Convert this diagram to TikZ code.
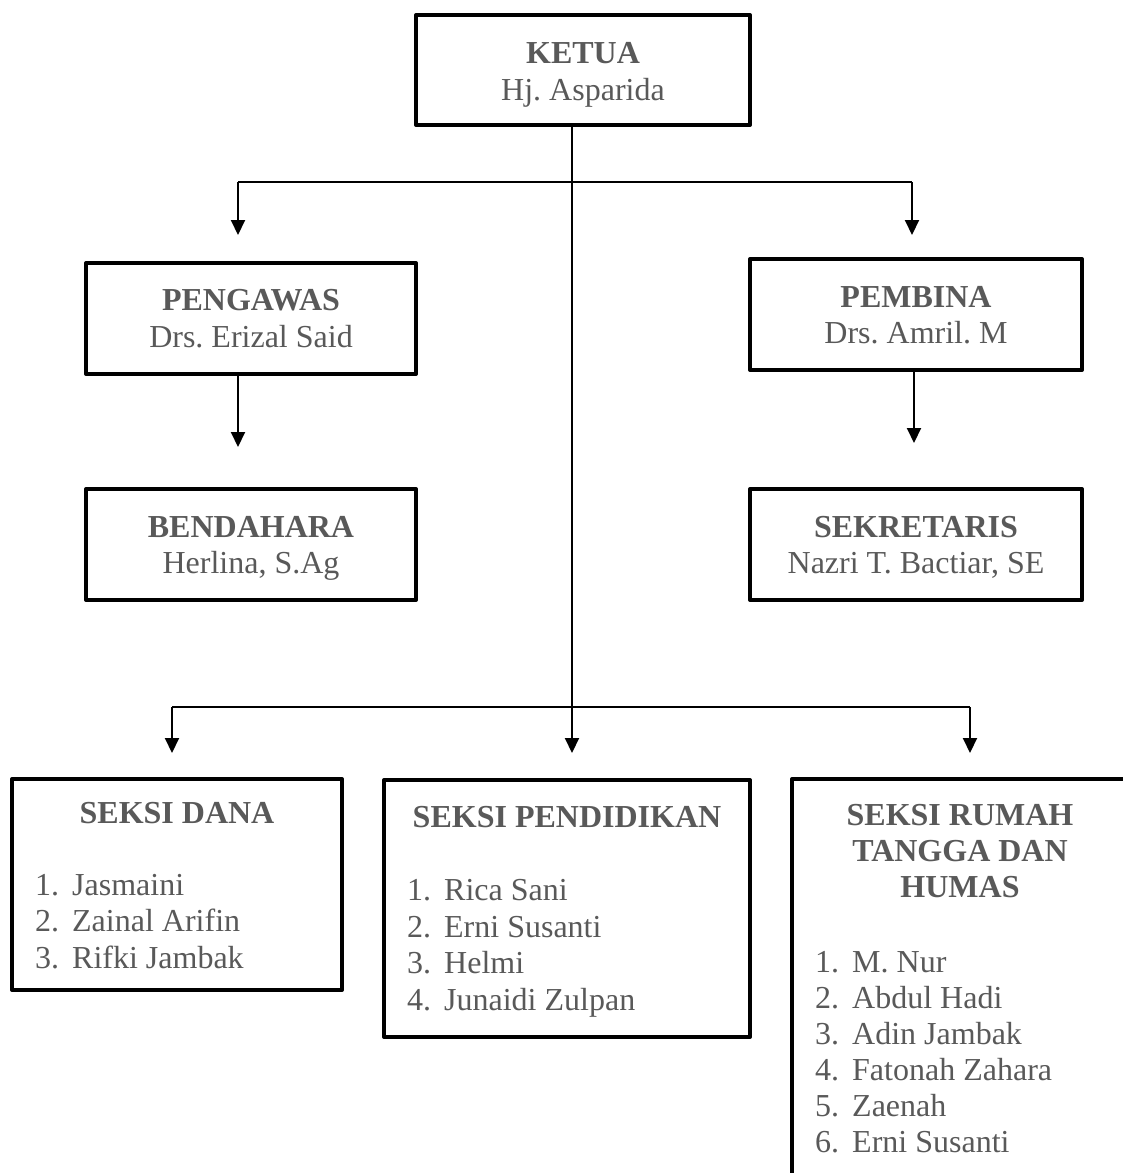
\documentclass[tikz,border=0pt]{standalone}
\usepackage{fontspec}
\setmainfont{Liberation Serif}
\usetikzlibrary{arrows.meta}
\definecolor{txtgray}{HTML}{595959}
\frenchspacing
\tikzset{
  box/.style={draw=black, line width=4pt, rectangle, inner sep=0pt, outer sep=0pt, line join=round, fill=white},
  conn/.style={draw=black, line width=2pt},
  arr/.style={conn, -{Triangle[length=15pt,width=14pt]}},
  ttl/.style={text=txtgray, font=\fontsize{32}{36}\selectfont\bfseries, inner sep=0pt, anchor=base},
  nm/.style={text=txtgray, font=\fontsize{32}{36}\selectfont, inner sep=0pt, anchor=base},
  item/.style={text=txtgray, font=\fontsize{32}{36}\selectfont, inner sep=0pt, anchor=base west}
}
\newcommand{\itm}[2]{\makebox[37pt][l]{#1}#2}
\begin{document}
\begin{tikzpicture}[x=1pt,y=-1pt]
\clip (0,0) rectangle (1123,1173);
\fill[white] (0,0) rectangle (1123,1173);

% junction and free-end coordinates
\coordinate (trunkTop) at (572,125);
\coordinate (jL) at (238,182);
\coordinate (jR) at (912,182);
\coordinate (tL) at (238,235);
\coordinate (tR) at (912,235);
\coordinate (bL) at (172,707);
\coordinate (bR) at (970,707);
\coordinate (tBL) at (172,753);
\coordinate (tBM) at (572,753);
\coordinate (tBR) at (970,753);
\coordinate (tPg) at (238,447);
\coordinate (tPb) at (914,443);

% boxes
\node[box, minimum width=334pt, minimum height=110pt] (ketua) at (583,70) {};
\node[box, minimum width=330pt, minimum height=111pt] (pengawas) at (251,318.5) {};
\node[box, minimum width=330pt, minimum height=111pt] (bendahara) at (251,544.5) {};
\node[box, minimum width=332pt, minimum height=111pt] (pembina) at (916,314.5) {};
\node[box, minimum width=332pt, minimum height=111pt] (sekretaris) at (916,544.5) {};
\node[box, minimum width=330pt, minimum height=211pt] (dana) at (177,884.5) {};
\node[box, minimum width=366pt, minimum height=257pt] (pendidikan) at (567,908.5) {};
\node[box, minimum width=358pt, minimum height=421pt] (rumah) at (971,989.5) {};

% connectors
\draw[arr] (ketua.south -| trunkTop) -- (tBM);
\draw[conn] (jL) -- (jR);
\draw[arr] (jL) -- (tL);
\draw[arr] (jR) -- (tR);
\draw[conn] (bL) -- (bR);
\draw[arr] (bL) -- (tBL);
\draw[arr] (bR) -- (tBR);
\draw[arr] (pengawas.south -| tPg) -- (tPg);
\draw[arr] (pembina.south -| tPb) -- (tPb);

% texts
\node[ttl] (tKetua) at (583,63) {KETUA};
\node[nm] (nKetua) at (583,100) {Hj. Asparida};
\node[ttl] (tPengawas) at (251,310) {PENGAWAS};
\node[nm] (nPengawas) at (251,347) {Drs. Erizal Said};
\node[ttl] (tBendahara) at (251,537) {BENDAHARA};
\node[nm] (nBendahara) at (251,573) {Herlina, S.Ag};
\node[ttl] (tPembina) at (916,307) {PEMBINA};
\node[nm] (nPembina) at (916,343) {Drs. Amril. M};
\node[ttl] (tSekretaris) at (916,537) {SEKRETARIS};
\node[nm] (nSekretaris) at (916,573) {Nazri T. Bactiar, SE};

\node[ttl] (tDana) at (177,823) {SEKSI DANA};
\node[item] (d1) at (35,895) {\itm{1.}{Jasmaini}};
\node[item] (d2) at (35,931.5) {\itm{2.}{Zainal Arifin}};
\node[item] (d3) at (35,968) {\itm{3.}{Rifki Jambak}};

\node[ttl] (tPend) at (567,827) {SEKSI PENDIDIKAN};
\node[item] (p1) at (407,900) {\itm{1.}{Rica Sani}};
\node[item] (p2) at (407,937) {\itm{2.}{Erni Susanti}};
\node[item] (p3) at (407,973) {\itm{3.}{Helmi}};
\node[item] (p4) at (407,1010) {\itm{4.}{Junaidi Zulpan}};

\node[ttl] (tRumah1) at (960,825) {SEKSI RUMAH};
\node[ttl] (tRumah2) at (960,861) {TANGGA DAN};
\node[ttl] (tRumah3) at (960,897) {HUMAS};
\node[item] (r1) at (815,972) {\itm{1.}{M. Nur}};
\node[item] (r2) at (815,1008) {\itm{2.}{Abdul Hadi}};
\node[item] (r3) at (815,1044) {\itm{3.}{Adin Jambak}};
\node[item] (r4) at (815,1080) {\itm{4.}{Fatonah Zahara}};
\node[item] (r5) at (815,1116) {\itm{5.}{Zaenah}};
\node[item] (r6) at (815,1152) {\itm{6.}{Erni Susanti}};
\end{tikzpicture}
\end{document}
